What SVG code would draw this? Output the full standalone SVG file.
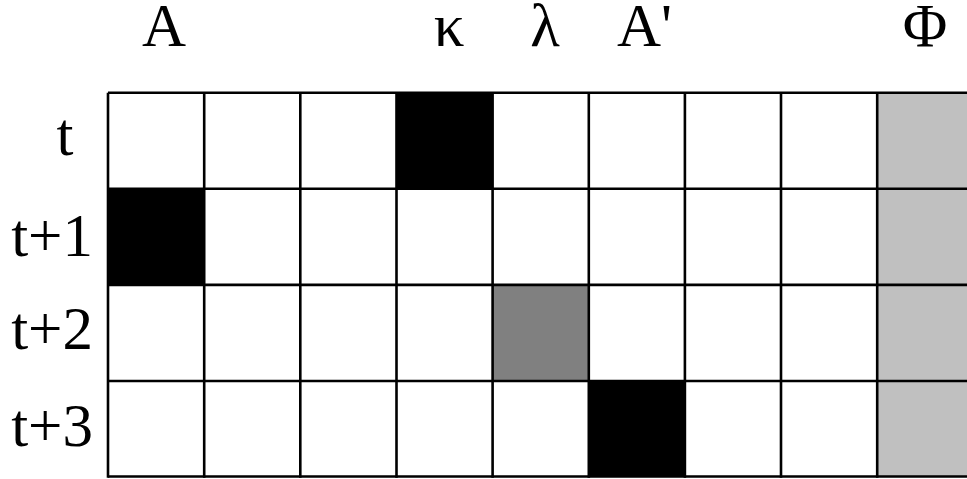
<svg xmlns="http://www.w3.org/2000/svg" width="967" height="479" viewBox="0 0 967 479">
<style>
text{font-family:"Liberation Serif","Times New Roman",serif;font-size:61px;fill:#000}
.h{text-anchor:middle}
.r{text-anchor:end}
.c{stroke:#000;stroke-width:2.6}
</style>
<rect width="967" height="479" fill="#fff"/>
<g id="fills">
<rect x="877.2" y="92.7" width="100" height="384" fill="#c0c0c0"/>
<rect x="396.5" y="92.7" width="96.1" height="96.1" fill="#000"/>
<rect x="108" y="188.8" width="96.2" height="96.1" fill="#000"/>
<rect x="492.6" y="284.9" width="96.2" height="96.1" fill="#808080"/>
<rect x="588.8" y="381" width="96.1" height="96" fill="#000"/>
</g>
<g id="grid" class="c" fill="none">
<path d="M108 92.7H967M108 188.8H967M108 284.9H967M108 381H967M108 476.5H967"/>
<path d="M108 92.7V477.8M204.2 92.7V477.8M300.3 92.7V477.8M396.5 92.7V477.8M492.6 92.7V477.8M588.8 92.7V477.8M684.9 92.7V477.8M781 92.7V477.8M877.2 92.7V477.8"/>
</g>
<g id="headers">
<text class="h" x="164" y="46">A</text>
<text class="h" x="449" y="46">κ</text>
<text class="h" x="545" y="46">λ</text>
<text x="617" y="46">A'</text>
<text class="h" x="925" y="46">Φ</text>
</g>
<g id="rows">
<text class="h" x="65" y="155">t</text>
<text class="r" x="93" y="256">t+1</text>
<text class="r" x="93" y="349">t+2</text>
<text class="r" x="93" y="446">t+3</text>
</g>
</svg>
